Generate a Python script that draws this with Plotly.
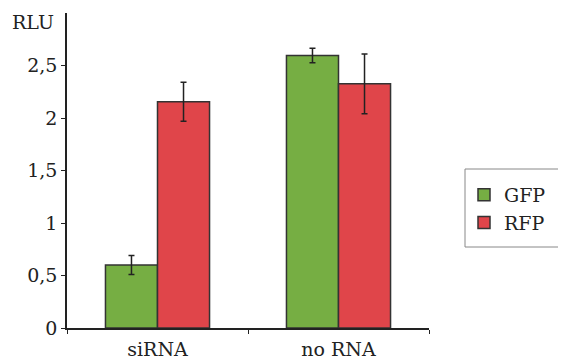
import plotly.graph_objects as go

categories = ["siRNA", "no RNA"]
gfp_values = [0.60, 2.595]
gfp_errors = [0.09, 0.07]
rfp_values = [2.155, 2.325]
rfp_errors = [0.185, 0.285]
tick_vals = [0, 0.5, 1, 1.5, 2, 2.5]
tick_text = ["0", "0,5", "1", "1,5", "2", "2,5"]

FONT = "DejaVu Serif"
TXT = "#222222"
FS = 19

fig = go.Figure()
fig.add_trace(go.Bar(
    name="GFP", x=categories, y=gfp_values,
    marker=dict(color="#76AE43", line=dict(color="#333333", width=1.5)),
    error_y=dict(type="data", array=gfp_errors, color="#222222", thickness=1.5, width=3),
    legendgroup="g",
))
fig.add_trace(go.Bar(
    name="RFP", x=categories, y=rfp_values,
    marker=dict(color="#E0454A", line=dict(color="#333333", width=1.5)),
    error_y=dict(type="data", array=rfp_errors, color="#222222", thickness=1.5, width=3),
    legendgroup="r",
))

# page body has an 8px margin, so the figure is sized to fit the 566x360 window
PW, PH, L, T = 362, 315, 59, 5
fig.update_layout(
    width=558, height=352,
    margin=dict(l=L, r=137, t=T, b=32, autoexpand=False),
    paper_bgcolor="white", plot_bgcolor="white",
    barmode="group", bargap=0.425, bargroupgap=0,
    font=dict(family=FONT, size=FS, color=TXT),
    showlegend=True,
    legend=dict(
        x=(456 - L) / PW, y=(T + PH - 168) / PH, xanchor="left", yanchor="top",
        borderwidth=0, bgcolor="rgba(0,0,0,0)",
        font=dict(family=FONT, size=FS, color=TXT),
        traceorder="grouped", tracegroupgap=0,
    ),
    xaxis=dict(
        type="category", showline=True, linecolor="#222222", linewidth=1.5,
        ticks="outside", tickson="boundaries", ticklen=4, tickcolor="#222222",
        showgrid=False, tickfont=dict(family=FONT, size=FS, color=TXT),
        ticklabelstandoff=3,
    ),
    yaxis=dict(
        range=[0, 3], showline=True, linecolor="#222222", linewidth=1.5,
        ticks="outside", ticklen=4, tickcolor="#222222", showgrid=False,
        zeroline=False, tickvals=tick_vals, ticktext=tick_text,
        tickfont=dict(family=FONT, size=FS, color=TXT),
    ),
)
# legend frame
fig.add_shape(
    type="rect", xref="paper", yref="paper", layer="below",
    x0=(457 - L) / PW, x1=(575 - L) / PW,
    y0=(T + PH - 239) / PH, y1=(T + PH - 161) / PH,
    line=dict(color="#888888", width=1), fillcolor="white",
)
fig.add_annotation(
    text="RLU", xref="paper", yref="paper", x=0, y=1, xanchor="right", yanchor="middle",
    xshift=-11, yshift=-9, showarrow=False, font=dict(family=FONT, size=FS, color=TXT),
)

fig.write_html("out.html")
